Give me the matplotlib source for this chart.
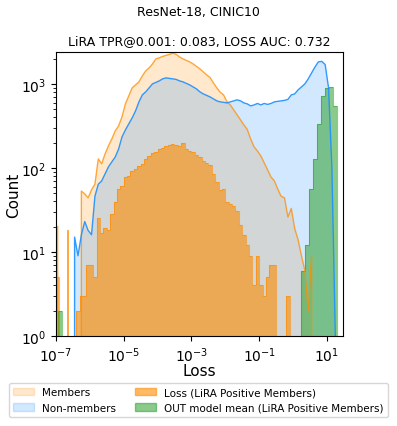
import numpy as np
import matplotlib
matplotlib.use("Agg")
import matplotlib.pyplot as plt
from matplotlib.patches import Patch

# ---- data (log10 bin edges and counts) ----
line_edges_log = np.linspace(-7.0, 1.5, 86)          # 85 bins, 0.1 decade
members = [20, 0, 0, 18, 0, 0, 0, 53, 49, 44, 55, 64, 128, 112, 147, 183, 221, 276, 316, 405,
           578, 720, 896, 973, 1057, 1245, 1429, 1551, 1729, 1985, 2042, 2125, 2185, 2245, 2317,
           2245, 2095, 1985, 1905, 1828, 1729, 1616, 1510, 1390, 1279, 1194, 1027, 896, 796, 740,
           611, 562, 490, 428, 373, 325, 287, 221, 178, 159, 139, 115, 95, 78, 70, 56, 46, 44,
           26, 33, 19, 14, 9, 6, 2, 9, 0, 0, 0, 0, 0, 0, 0, 0, 0]
non_members = [0, 0, 0, 0, 0, 15, 9, 16, 23, 18, 16, 46, 64, 70, 85, 103, 118, 135, 168, 234,
               283, 334, 394, 477, 611, 740, 804, 896, 1000, 1042, 1086, 1148, 1178, 1162, 1148,
               1130, 1086, 1057, 1014, 973, 920, 872, 804, 760, 730, 700, 663, 628, 611, 603,
               594, 611, 628, 646, 628, 594, 578, 547, 562, 585, 562, 585, 570, 585, 611, 620,
               628, 637, 654, 740, 760, 849, 920, 1000, 1148, 1352, 1592, 1828, 1853, 1700, 900,
               97, 1, 0, 0]
loss_pos = [5, 0, 0, 0, 0, 0, 2, 3, 3, 7, 7, 5, 25, 17, 19, 18, 28, 39, 56, 61,
            78, 80, 92, 97, 106, 112, 128, 139, 151, 155, 168, 173, 180, 188, 193,
            186, 180, 199, 168, 159, 153, 143, 133, 121, 115, 107, 85, 68, 54, 56,
            39, 37, 35, 31, 21, 16, 12, 9, 4, 9, 4, 3, 5, 7, 7, 0, 0, 0, 3, 0,
            0, 0, 0, 0, 0, 0, 0, 0, 0, 0, 0, 0, 0, 0, 0]
out_edges_log = np.linspace(-6.94, 1.30, 71)          # 70 bins
out_mean_pos = [2] + [0] * 60 + [6, 12, 56, 128, 334, 720, 896, 920, 550]

title = "LiRA TPR@0.001: 0.083, LOSS AUC: 0.732"
suptitle = "ResNet-18, CINIC10"
legend_labels = ["Members", "Non-members", "Loss (LiRA Positive Members)",
                 "OUT model mean (LiRA Positive Members)"]

# ---- plotting ----
line_edges = 10 ** line_edges_log
centers = 10 ** ((line_edges_log[:-1] + line_edges_log[1:]) / 2)
out_edges = 10 ** out_edges_log

orange = "darkorange"
blue = "dodgerblue"
green = "tab:green"

fig = plt.figure(figsize=(3.97, 4.27), dpi=100)
ax = fig.add_axes([0.141, 0.211, 0.723, 0.665])
ax.set_xscale("log")
ax.set_yscale("log")

ax.fill_between(centers, members, color=orange, alpha=0.2, linewidth=0)
ax.fill_between(centers, non_members, color=blue, alpha=0.2, linewidth=0)

ax.bar(line_edges[:-1], loss_pos, width=np.diff(line_edges), align="edge",
       color=orange, alpha=0.6, linewidth=0)
ax.stairs(loss_pos, line_edges, color=orange, alpha=0.6, linewidth=0.8)
ax.bar(out_edges[:-1], out_mean_pos, width=np.diff(out_edges), align="edge",
       color=green, alpha=0.55, linewidth=0)
ax.stairs(out_mean_pos, out_edges, color=green, alpha=0.55, linewidth=0.8)

ax.plot(centers, members, color=orange, linewidth=1.0, alpha=0.75)
ax.plot(centers, non_members, color=blue, linewidth=1.0, alpha=0.9)

ax.set_xlim(1e-7, 30)
ax.set_ylim(1, 2400)
ax.set_xlabel("Loss", fontsize=11, labelpad=-1)
ax.set_ylabel("Count", fontsize=11, labelpad=0)
ax.tick_params(labelsize=10)
ax.set_title(title, fontsize=9, pad=6)
fig.suptitle(suptitle, fontsize=9, y=0.985)

handles = [Patch(color=orange, alpha=0.2), Patch(color=blue, alpha=0.2),
           Patch(color=orange, alpha=0.6), Patch(color=green, alpha=0.55)]
fig.legend(handles, legend_labels, loc="center", bbox_to_anchor=(0.5, 0.061),
           ncol=2, fontsize=7.5, columnspacing=1.8)

fig.savefig("out.png", dpi=100)
